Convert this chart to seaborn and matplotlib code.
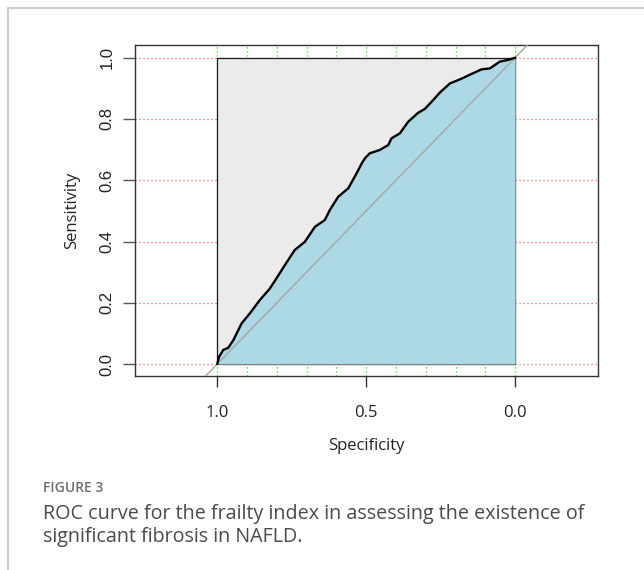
import numpy as np
import pandas as pd
import matplotlib
matplotlib.use("Agg")
import matplotlib.pyplot as plt
from matplotlib.patches import Rectangle
import seaborn as sns

# ---- data ----
specificity = [1.000, 0.994, 0.980, 0.963, 0.946, 0.918, 0.890, 0.857, 0.823, 0.801,
               0.773, 0.740, 0.706, 0.672, 0.639, 0.622, 0.594, 0.560, 0.532, 0.515,
               0.504, 0.488, 0.454, 0.426, 0.415, 0.387, 0.359, 0.326, 0.303, 0.275,
               0.253, 0.219, 0.186, 0.153, 0.113, 0.085, 0.052, 0.023, 0.000]
sensitivity = [0.000, 0.023, 0.046, 0.053, 0.078, 0.133, 0.166, 0.209, 0.247, 0.280,
               0.323, 0.372, 0.399, 0.448, 0.470, 0.503, 0.546, 0.574, 0.623, 0.655,
               0.672, 0.688, 0.699, 0.715, 0.737, 0.753, 0.791, 0.820, 0.833, 0.862,
               0.886, 0.916, 0.929, 0.944, 0.962, 0.965, 0.987, 0.993, 1.000]
x_ticks = [1.0, 0.5, 0.0]
x_tick_labels = ["1.0", "0.5", "0.0"]
y_ticks = [0.0, 0.2, 0.4, 0.6, 0.8, 1.0]
y_tick_labels = ["0.0", "0.2", "0.4", "0.6", "0.8", "1.0"]
x_grid = [0.0, 0.1, 0.2, 0.3, 0.4, 0.5, 0.6, 0.7, 0.8, 0.9, 1.0]
y_grid = [0.0, 0.2, 0.4, 0.6, 0.8, 1.0]
x_label = "Specificity"
y_label = "Sensitivity"
fig_label = "FIGURE 3"
caption_lines = ["ROC curve for the frailty index in assessing the existence of",
                 "significant fibrosis in NAFLD."]

df = pd.DataFrame({"Specificity": specificity, "Sensitivity": sensitivity})

sns.set_theme(style="white")
plt.rcParams["font.family"] = ["Open Sans", "DejaVu Sans"]

W, H = 644, 570
fig = plt.figure(figsize=(W / 100, H / 100), dpi=100)
fig.patch.set_facecolor("white")

# outer frame
fig.add_artist(Rectangle((8 / W, -0.2), 1.5, 1.2 - 8 / H, transform=fig.transFigure,
                         fill=False, edgecolor="#c6c6c6", linewidth=1.3))

l, r, t, b = 134.7, 598.3, 45.3, 376.0
ax = fig.add_axes([l / W, 1 - b / H, (r - l) / W, (b - t) / H])
ax.set_facecolor("white")

# grid
for yg in y_grid:
    ax.axhline(yg, color="#ff5c5c", linestyle=(0, (1, 2.2)), linewidth=0.9, zorder=0)
for xg in x_grid:
    ax.axvline(xg, color="#33dd33", linestyle=(0, (1, 2.2)), linewidth=0.9, zorder=0)

# max AUC box
ax.add_patch(Rectangle((0, 0), 1, 1, facecolor="#ebebeb", edgecolor="#1a1a1a",
                       linewidth=0.9, zorder=1))
# AUC polygon
ax.fill_between(df["Specificity"], 0, df["Sensitivity"], color="#add8e6",
                linewidth=0, zorder=2)
# diagonal
ax.axline((1, 0), (0, 1), color="#a6a6a6", linewidth=1.0, zorder=3)
# ROC curve
sns.lineplot(data=df, x="Specificity", y="Sensitivity", sort=False, estimator=None,
             color="black", linewidth=1.7, ax=ax, zorder=4)

ax.set_xlim(1.277, -0.279)
ax.set_ylim(-0.039, 1.0405)

for s in ax.spines.values():
    s.set_color("#333333")
    s.set_linewidth(1.0)
    s.set_visible(True)

ax.set_xticks(x_ticks)
ax.set_xticklabels(x_tick_labels, fontsize=12, family=["Open Sans", "DejaVu Sans"],
                   color="#222222")
ax.set_yticks(y_ticks)
ax.set_yticklabels(y_tick_labels, fontsize=12, family=["Liberation Sans", "DejaVu Sans"],
                   rotation=90, va="center", color="#222222")
ax.tick_params(axis="x", length=8, width=1, color="#333333", pad=13, direction="out",
               bottom=True)
ax.tick_params(axis="y", length=8.5, width=1, color="#555555", pad=6, direction="out",
               left=True)

ax.set_xlabel(x_label, fontsize=12, color="#222222", labelpad=12)
ax.set_ylabel(y_label, fontsize=12, color="#222222", labelpad=14)

fig.text(43 / W, 1 - 492.5 / H, fig_label, fontsize=10, fontweight="semibold",
         color="#6e6e6e", ha="left", va="baseline")
for i, line in enumerate(caption_lines):
    fig.text(43 / W, 1 - (518.5 + 23.5 * i) / H, line, fontsize=14.2, color="#4a4a4a",
             ha="left", va="baseline")

fig.savefig("out.png", dpi=100, facecolor="white")
